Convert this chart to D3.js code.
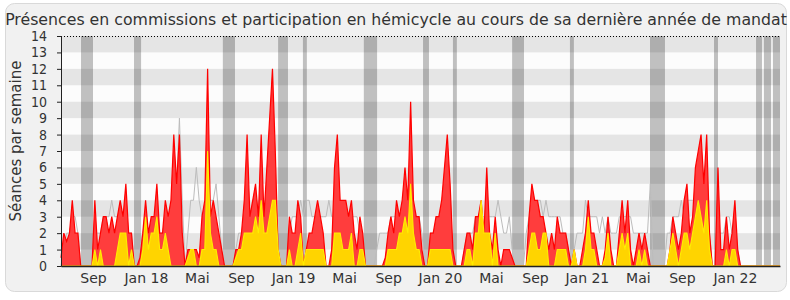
<!DOCTYPE html>
<html>
<head>
<meta charset="utf-8">
<title>Présences en commissions et participation en hémicycle</title>
<script src="https://cdn.jsdelivr.net/npm/d3@7"></script>
<style>
    body { margin: 0; background: #fff; }
    text { font-family: "DejaVu Sans", Verdana, sans-serif; fill: #333; }
</style>
</head>
<body>
<svg id="chart" width="790" height="300"></svg>
<script>
    // one value per week, from June 2017 to April 2022
    var redVals = [
        0.5,2,1.5,2,4,2,2,0,0,0,0,0,4,1,2,3,
        3,2,3,2,3,4,3,5,2,2,0,0,0.5,2,4,2,
        3,3,5,2,2,4,3,4,8,5,8,2,0,1,1,1,
        1,0.5,3,4,12,3,4,3,2,1,0,0,0,0,1,1,
        2,4,8,3,4,5,3,8,3,6,9,12,7,1,0,0,
        0,3,2,2,4,3,0,1,2,2,3,4,3,2,0,0,
        1,6,8,4,4,4,3,4,2,1,3,2,0,0,0,0,
        0,0,0,0.5,2,3,2,4,3,4,6,4,10,4,3,3,
        1,0,0,2,2,3,3,4,6,8,5,1,0,0,0,1,
        2,2,1,3,3,4,2,6,2,1,3,1,0,1,1,1,
        0.5,0,0,0,0,0,3,5,4,4,3,3,2,1,2,1,
        3,2,2,2,1,0,1,0,0,1,2,4,2,2,1,0,
        0,1,3,1,0,0,2,4,2,4,1,0,1,2,1,2,
        1,0,0,0,0,0,0,0,1,3,2,1,2,4,5,2,
        3,6,7,8,5,8,2,0,0,6,1,1,3,1,2,4,
        1,0,0,0,0,0,0,0,0,0,0,0,0,0,0,0
    ];
    var yellowVals = [
        0,0,0,0,0,0,0,0,0,0,0,0,1,0,1,0,
        0,0,0,0,1,2,2,2,0,1,0,0,0,1,3,1,
        2,2,3,1,1,2,1,0,0,0,0,0,0,0.5,1,1,
        0,0,1,1,7,2,1,1,0,0,0,0,0,0,0.5,1,
        1,2,2,2,2,3,2,4,2,2,3,4,4,1,0,0,
        0,1,0,0,1,2,0,1,1,1,1,1,1,1,0,0,
        0,2,2,2,1,1,1,2,0,0,1,1,0,0,0,0,
        0,0,0,0,1,1,1,1,2,2,3,2,5,2,1,1,
        0,0,0,1,1,1,1,1,1,1,1,0,0,0,0,0,
        1,1,0,2,2,4,2,2,2,0,2,0,0,0,0,0,
        0,0,0,0,0,0,1,2,2,1,1,2,2,0,0,0,
        1,1,1,1,0,0,1,0,0,0,1,3,1,1,0,0,
        0,0.5,2,0,0,0,1,2,1,2,0,0,0,1,0,1,
        0,0,0,0,0,0,0,0,1,2,1,0,1,2,2,1,
        2,3,4,3,2,4,1,0,0,0,0,0,1,0,1,1,
        0,0,0,0,0,0,0,0,0,0,0,0,0,0,0,0
    ];
    var medianVals = [
        0,1,2,2,3,3,2,0,0,0,0,0,2,2,2,3,
        3,3,4,3,3,3,3,3,2,2,0,0,1,2,3,2,
        2,3,3,2,2,3,3,3,4,5,9,4,0,2,4,4,
        6,4,3,3,4,4,4,5,3,1,0,0,0,0,1,2,
        2,2,3,3,4,4,3,3,3,3,4,4,3,1,0,0,
        0,2,3,3,3,4,3,4,4,3,3,3,3,3,3,4,
        3,3,3,3,3,3,3,3,3,3,2,2,0,0,0,0,
        1,2,2,2,2,3,3,3,3,3,3,3,4,3,3,3,
        2,0,0,2,2,2,2,3,3,3,3,1,0,0,0,1,
        2,2,2,3,3,3,3,3,3,3,3,4,3,2,2,3,
        1,0,0,0,0,2,3,3,3,4,4,3,4,3,3,3,
        3,3,2,2,1,0,1,2,2,2,4,3,3,3,3,2,
        3,2,3,2,2,2,3,3,3,3,3,2,2,2,2,2,
        2,5,0,0,0,0,0,2,2,3,3,3,4,3,4,4,
        4,4,4,4,4,4,2,0,0,2,2,2,3,3,2,2,
        1,0,0,0,0,0,0,0,0,0,0,0,0,0,0,0
    ];

    // vacances parlementaires (in week index)
    var recessStart = [7.1, 25.9, 57.4, 77, 85.8, 107.4, 128.4, 139, 160, 180.5, 208.9, 231.6, 246.5, 249.3, 252.5];
    var recessEnd   = [11.35, 28.4, 61.7, 80.5, 87.2, 112.1, 130.5, 140.4, 164.2, 181.9, 214.2, 233, 248.6, 251.8, 255];

    var tickWeeks  = [11.35, 30.1, 48.2, 63.8, 82.3, 100.4, 116, 134.4, 152.5, 168.1, 186.5, 204.6, 220.2, 239];
    var tickLabels = ["Sep", "Jan 18", "Mai", "Sep", "Jan 19", "Mai", "Sep", "Jan 20", "Mai", "Sep", "Jan 21", "Mai", "Sep", "Jan 22"];

    var yMax = 14;

    var margin = {top: 36, right: 10, bottom: 34, left: 61};
    var width = 790, height = 300;

    var svg = d3.select("#chart");

    // panel
    svg.append("rect")
        .attr("x", 5.5).attr("y", 3.5)
        .attr("width", 781).attr("height", 288)
        .attr("rx", 9)
        .attr("fill", "#f1f1f1")
        .attr("stroke", "#d9d9d9");

    var x = d3.scaleLinear()
        .domain([0, redVals.length - 1])
        .range([margin.left, width - margin.right]);

    var y = d3.scaleLinear()
        .domain([0, yMax])
        .range([height - margin.bottom, margin.top]);

    var plot = svg.append("g");

    plot.append("rect")
        .attr("x", x(0)).attr("y", y(yMax))
        .attr("width", x.range()[1] - x(0))
        .attr("height", y(0) - y(yMax))
        .attr("fill", "#fcfcfc");

    // recess bars
    plot.selectAll(".recess")
        .data(recessStart)
        .enter()
        .append("rect")
        .attr("class", "recess")
        .attr("x", d => x(d))
        .attr("width", (d, i) => x(recessEnd[i]) - x(d))
        .attr("y", y(yMax))
        .attr("height", y(0) - y(yMax))
        .attr("fill", "#c0c0c0");

    // horizontal bands
    plot.selectAll(".band")
        .data(d3.range(1, yMax, 2))
        .enter()
        .append("rect")
        .attr("class", "band")
        .attr("x", x(0))
        .attr("width", x.range()[1] - x(0))
        .attr("y", d => y(d + 1))
        .attr("height", d => y(d) - y(d + 1))
        .attr("fill", "rgba(0,0,0,0.09)");

    var line = d3.line()
        .x((d, i) => x(i))
        .y(d => y(d));

    var area = d3.area()
        .x((d, i) => x(i))
        .y0(y(0))
        .y1(d => y(d));

    // median line
    plot.append("path")
        .datum(medianVals)
        .attr("d", line)
        .attr("fill", "none")
        .attr("stroke", "#bcbcbc")
        .attr("stroke-width", 1);

    plot.append("path")
        .datum(redVals)
        .attr("d", area)
        .attr("fill", "#ff3d3d");
    plot.append("path")
        .datum(redVals)
        .attr("d", line)
        .attr("fill", "none")
        .attr("stroke", "#ff0000")
        .attr("stroke-width", 1.2);

    plot.append("path")
        .datum(yellowVals)
        .attr("d", area)
        .attr("fill", "#ffd400");
    plot.append("path")
        .datum(yellowVals)
        .attr("d", line)
        .attr("fill", "none")
        .attr("stroke", "#ffee00")
        .attr("stroke-width", 1.1);

    // top dotted line
    plot.append("line")
        .attr("x1", x(0)).attr("x2", x.range()[1])
        .attr("y1", y(yMax) + 0.5).attr("y2", y(yMax) + 0.5)
        .attr("stroke", "#000")
        .attr("stroke-dasharray", "1,2");

    // bottom axis
    var xAxis = svg.append("g")
        .attr("transform", "translate(0," + y(0) + ")")
        .call(d3.axisBottom(x)
            .tickValues(tickWeeks)
            .tickFormat((d, i) => tickLabels[i])
            .tickSize(0)
            .tickPadding(7));
    xAxis.select(".domain").attr("stroke", "#222").attr("stroke-width", 1.5);
    xAxis.selectAll("text")
        .style("font-size", "14px")
        .style("font-family", "DejaVu Sans")
        .attr("fill", "#444");

    // left axis
    var yAxis = svg.append("g")
        .attr("transform", "translate(" + x(0) + ",0)")
        .call(d3.axisLeft(y).ticks(yMax).tickSize(4).tickPadding(10));
    yAxis.select(".domain").attr("stroke", "#222");
    yAxis.selectAll(".tick line").attr("stroke", "#222");
    yAxis.selectAll("text")
        .style("font-size", "14px")
        .style("font-family", "DejaVu Sans Condensed, DejaVu Sans")
        .attr("fill", "#444");

    // y title
    svg.append("text")
        .attr("transform", "translate(21,141) rotate(-90)")
        .attr("text-anchor", "middle")
        .style("font-size", "15px")
        .attr("fill", "#444")
        .text("Séances par semaine");

    // title, shrunk so that it fits the panel
    var title = svg.append("text")
        .attr("x", 396)
        .attr("y", 25)
        .attr("text-anchor", "middle")
        .style("font-size", "17px")
        .attr("fill", "#333")
        .text("Présences en commissions et participation en hémicycle au cours de sa dernière année de mandat");
    var tw = title.node().getComputedTextLength();
    var maxW = 782;
    if (tw > maxW) {
        title.style("font-size", (17 * maxW / tw).toFixed(2) + "px");
    }
</script>
</body>
</html>
